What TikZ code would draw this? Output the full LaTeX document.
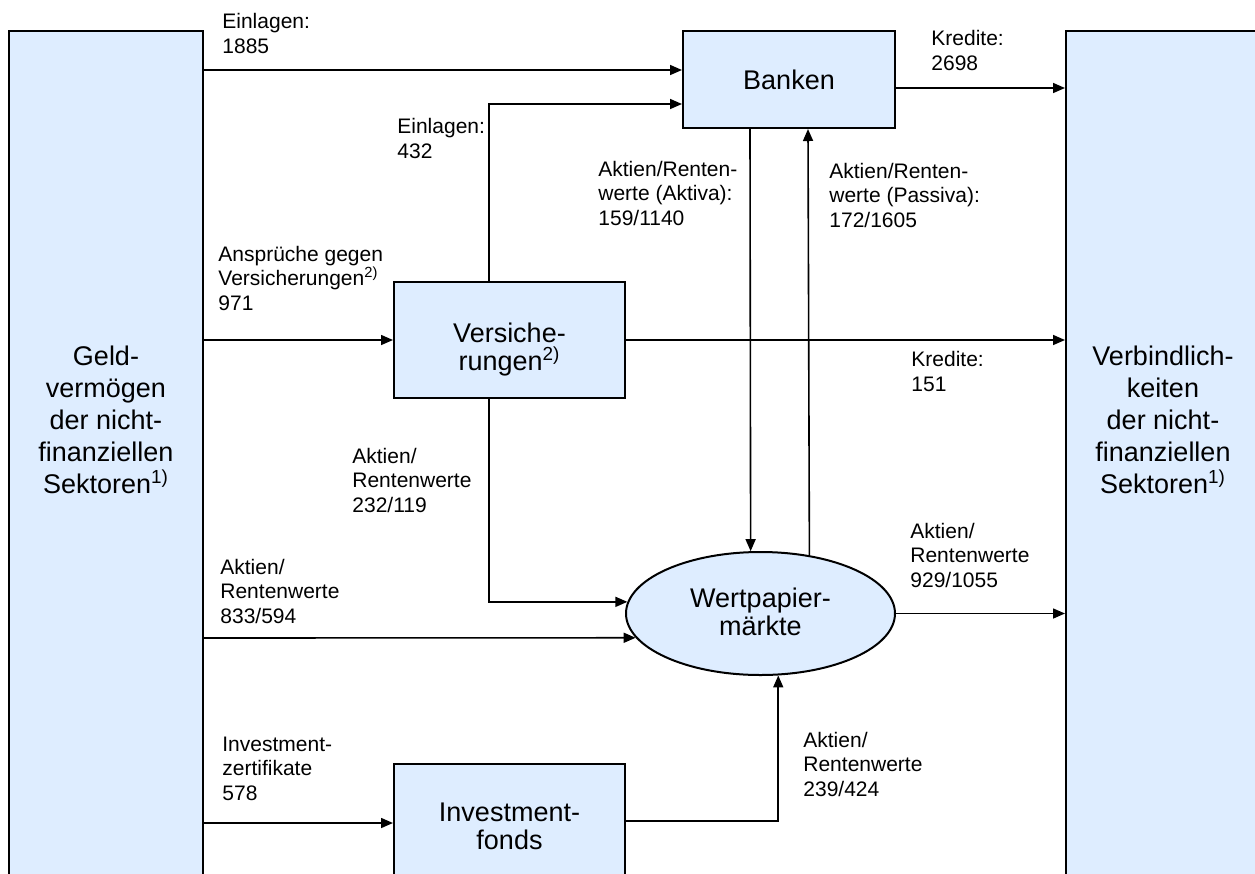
\documentclass[tikz,border=0pt]{standalone}
\usepackage{fontspec}
\setmainfont{Liberation Sans}
\usetikzlibrary{shapes.geometric,arrows.meta}
\definecolor{boxblue}{RGB}{222,237,255}
\begin{document}
\begin{tikzpicture}[x=0.5pt,y=-0.5pt,
  box/.style={draw=black, line width=1pt, fill=boxblue, rectangle, inner sep=0pt},
  big/.style={font=\fontsize{13.5}{16}\selectfont, align=center, inner sep=0pt},
  bigt/.style={font=\fontsize{13.5}{14}\selectfont, align=center, inner sep=0pt},
  lab/.style={font=\fontsize{10.5}{12.2}\selectfont, align=left, anchor=base west, inner sep=0pt},
  arr/.style={line width=0.8pt, -{Triangle[length=6pt,width=5pt]}}]
\useasboundingbox (0,0) rectangle (1255,874);
\clip (0,0) rectangle (1255,874);
% helper rows / columns
\coordinate (cV) at (489,0);
\coordinate (cA) at (750,0);
\coordinate (cP) at (808,0);
\coordinate (r70) at (0,70);
\coordinate (r104) at (0,104);
\coordinate (r88) at (0,88);
\coordinate (r638) at (0,638);
\coordinate (r823) at (0,823);
\coordinate (r821) at (0,821);
% main nodes
\node[box, minimum width=97pt, minimum height=428.5pt] (L) at (106,459.5) {};
\node[big] (Lt) at (106,420) {Geld-\\vermögen\\der nicht-\\finanziellen\\Sektoren\textsuperscript{1)}};
\node[box, minimum width=98pt, minimum height=428.5pt] (R) at (1164,459.5) {};
\node[big] (Rt) at (1163,420) {Verbindlich-\\keiten\\der nicht-\\finanziellen\\Sektoren\textsuperscript{1)}};
\node[box, big, minimum width=106pt, minimum height=48.5pt] (B) at (789,79.5) {Banken};
\node[box, minimum width=115.5pt, minimum height=58pt] (V) at (509.5,340) {};
\node[bigt] (Vt) at (509.5,350) {Versiche-\\rungen\textsuperscript{2)}};
\node[ellipse, draw=black, fill=boxblue, line width=1pt, minimum width=134.5pt, minimum height=61.5pt, inner sep=0pt] (W) at (760.5,613.5) {};
\node[bigt] (Wt) at (760.5,612) {Wertpapier-\\märkte};
\node[box, minimum width=115.5pt, minimum height=62pt] (I) at (509.5,826) {};
\node[bigt] (It) at (509.5,826) {Investment-\\fonds};
% connectors
\draw[arr] (L.east |- r70) -- (B.west |- r70);
\draw[arr] (cV |- V.north) |- (B.west |- r104);
\draw[arr] (L.east |- V.west) -- (V.west);
\draw[arr] (V.east) -- (R.west |- V.east);
\draw[arr] (B.east |- r88) -- (R.west |- r88);
\draw[arr] (cA |- B.south) -- (W.99.7);
\draw[arr] (W.50.4) -- (cP |- B.south);
\draw[arr] (cV |- V.south) |- (W.175.5);
\draw[arr] (L.east |- r638) -- (W.191.2);
\draw[arr] (L.east |- r823) -- (I.west |- r823);
\draw[arr] (I.east |- r821) -| (W.286.9);
\draw[arr] (W.east) -- (R.west |- W.east);
% labels (anchored at the baseline of their last line)
\node[lab] (l1) at (222,53) {Einlagen:\\1885};
\node[lab] (l2) at (931,70) {Kredite:\\2698};
\node[lab] (l3) at (397,158) {Einlagen:\\432};
\node[lab] (l4) at (218,310) {Ansprüche gegen\\Versicherungen\textsuperscript{2)}\\971};
\node[lab] (l5) at (598,225) {Aktien/Renten-\\werte (Aktiva):\\159/1140};
\node[lab] (l6) at (829,227) {Aktien/Renten-\\werte (Passiva):\\172/1605};
\node[lab] (l7) at (911,391) {Kredite:\\151};
\node[lab] (l8) at (352,512) {Aktien/\\Rentenwerte\\232/119};
\node[lab] (l9) at (220,623) {Aktien/\\Rentenwerte\\833/594};
\node[lab] (l10) at (910,587) {Aktien/\\Rentenwerte\\929/1055};
\node[lab] (l11) at (222,800) {Investment-\\zertifikate\\578};
\node[lab] (l12) at (803,796) {Aktien/\\Rentenwerte\\239/424};
\end{tikzpicture}
\end{document}
